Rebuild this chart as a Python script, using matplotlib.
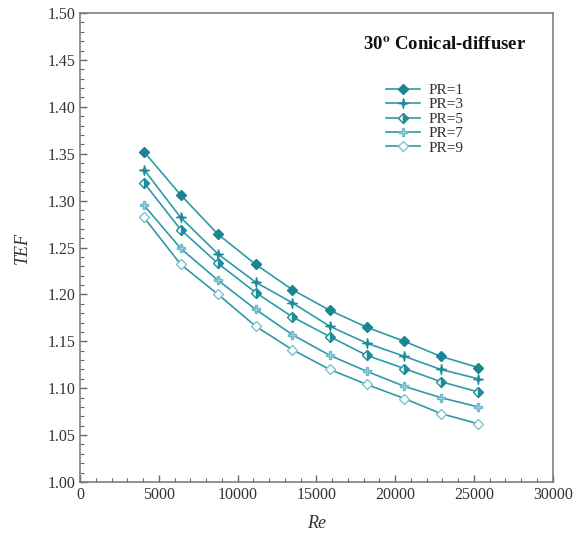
import matplotlib
matplotlib.use("Agg")
import matplotlib.pyplot as plt
from matplotlib.path import Path
from matplotlib.ticker import MultipleLocator

# data
re_vals = [4060, 6390, 8760, 11150, 13480, 15850, 18200, 20580, 22890, 25280]
pr_labels = ["PR=1", "PR=3", "PR=5", "PR=7", "PR=9"]
tef_pr1 = [1.352, 1.306, 1.264, 1.232, 1.205, 1.183, 1.165, 1.150, 1.134, 1.122]
tef_pr3 = [1.333, 1.282, 1.243, 1.213, 1.191, 1.166, 1.148, 1.134, 1.120, 1.110]
tef_pr5 = [1.319, 1.269, 1.233, 1.202, 1.176, 1.155, 1.135, 1.121, 1.107, 1.096]
tef_pr7 = [1.295, 1.249, 1.215, 1.184, 1.157, 1.135, 1.118, 1.102, 1.090, 1.080]
tef_pr9 = [1.282, 1.232, 1.200, 1.166, 1.141, 1.120, 1.104, 1.089, 1.073, 1.062]

plt.rcParams["font.family"] = ["Liberation Serif", "DejaVu Serif"]
plt.rcParams["mathtext.fontset"] = "stix"

line_col = "#2f9aa8"

# pinwheel-ish marker for PR=3
pin = Path([(0, 1), (0.25, 0.1), (1, 0), (0.1, -0.25), (0, -1), (-0.25, -0.1),
            (-1, 0), (-0.1, 0.25), (0, 1)])

styles = [
    dict(marker="D", mfc="#1b8595", mec="#1b8595", ms=5),
    dict(marker=pin, mfc="#1f8c9b", mec="#1f8c9b", ms=7),
    dict(marker="D", fillstyle="right", mfc="#1f8c9b", mec="#1f8c9b",
         markerfacecoloralt="white", ms=5),
    dict(marker="P", mfc="#a9d6de", mec="#6fb8c6", ms=6),
    dict(marker="D", mfc="white", mec="#7cc2cf", ms=5),
]

fig = plt.figure(figsize=(5.79, 5.38), dpi=100)
ax = fig.add_axes([0.1382, 0.1041, 0.8164, 0.8717])

for ys, lab, st in zip([tef_pr1, tef_pr3, tef_pr5, tef_pr7, tef_pr9], pr_labels, styles):
    ax.plot(re_vals, ys, color=line_col, lw=1.2, label=lab, **st)

ax.set_xlim(0, 30000)
ax.set_ylim(1.0, 1.5)
ax.xaxis.set_major_locator(MultipleLocator(5000))
ax.xaxis.set_minor_locator(MultipleLocator(1000))
ax.yaxis.set_major_locator(MultipleLocator(0.05))
ax.yaxis.set_minor_locator(MultipleLocator(0.01))
ax.yaxis.set_major_formatter(matplotlib.ticker.FormatStrFormatter("%.2f"))
ax.tick_params(which="both", direction="in", top=False, right=False,
               color="#666666", labelcolor="#333333", labelsize=11.5)
ax.tick_params(which="major", length=5, width=1)
ax.tick_params(which="minor", length=3, width=0.8)
for sp in ax.spines.values():
    sp.set_color("#777777")
    sp.set_linewidth(1.1)

ax.set_xlabel("Re", fontstyle="italic", fontsize=13, color="#333333", labelpad=9)
ax.set_ylabel("TEF", fontstyle="italic", fontsize=13, color="#333333", labelpad=12)

ax.text(0.598, 0.922, r"30$^{\mathbf{o}}$ Conical-diffuser", transform=ax.transAxes,
        fontsize=13.5, fontweight="bold", color="#111111")

leg = ax.legend(loc="upper left", bbox_to_anchor=(0.625, 0.873), frameon=False,
                fontsize=11, handlelength=2.2, labelspacing=0.05,
                handletextpad=0.6, borderpad=0.2)
for t in leg.get_texts():
    t.set_color("#333333")

fig.savefig("out.png", dpi=100)
